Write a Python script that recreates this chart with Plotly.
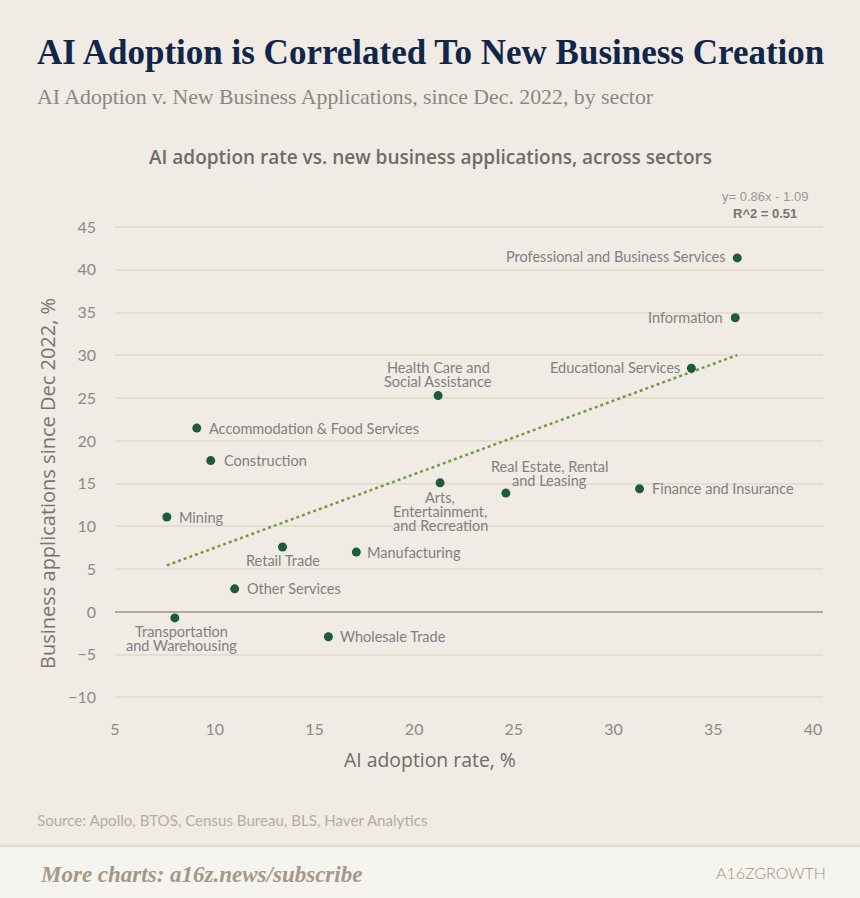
import plotly.graph_objects as go

# AI adoption rate vs new business applications, by sector
sectors = [
    "Professional and Business Services",
    "Information",
    "Educational Services",
    "Health Care and<br>Social Assistance",
    "Accommodation & Food Services",
    "Construction",
    "Arts,<br>Entertainment,<br>and Recreation",
    "Real Estate, Rental<br>and Leasing",
    "Finance and Insurance",
    "Mining",
    "Retail Trade",
    "Manufacturing",
    "Other Services",
    "Transportation<br>and Warehousing",
    "Wholesale Trade",
]
ai_adoption = [36.2, 36.1, 33.9, 21.2, 9.1, 9.8, 21.3, 24.6, 31.3, 7.6, 13.4, 17.1, 11.0, 8.0, 15.7]
biz_apps = [41.4, 34.4, 28.5, 25.3, 21.5, 17.7, 15.1, 13.9, 14.4, 11.1, 7.6, 7.0, 2.7, -0.7, -2.9]

# fitted trend stated on the chart
SLOPE = 0.86
INTERCEPT = -1.09
R2 = 0.51

x_ticks = [5, 10, 15, 20, 25, 30, 35, 40]
y_ticks = [-10, -5, 0, 5, 10, 15, 20, 25, 30, 35, 40, 45]

# label placement: (side, xshift, first-line offset in px)
label_pos = {
    "Professional and Business Services": ("left", -10, 1),
    "Information": ("left", -10, 0),
    "Educational Services": ("left", -9, 1),
    "Health Care and<br>Social Assistance": ("above", 0, 14),
    "Accommodation & Food Services": ("right", 10, 0),
    "Construction": ("right", 11, 0),
    "Arts,<br>Entertainment,<br>and Recreation": ("below", 0, 15),
    "Real Estate, Rental<br>and Leasing": ("above", 44, 13),
    "Finance and Insurance": ("right", 10, 0),
    "Mining": ("right", 10, 0),
    "Retail Trade": ("below", 0, 14),
    "Manufacturing": ("right", 9, 0),
    "Other Services": ("right", 10, 0),
    "Transportation<br>and Warehousing": ("below", 7, 14),
    "Wholesale Trade": ("right", 10, 0),
}
LINE_H = 13.7

W, H = 860, 898
L, R, T, B = 115, 37, 222, 186
pw, ph = W - L - R, H - T - B


def px(x):
    return (x - L) / pw


def py(y):
    return (H - B - y) / ph


BG = "#f0ebe4"
SANS = "Lato, 'Open Sans', sans-serif"
WIDE = "'Open Sans', Lato, sans-serif"
SERIF = "'Liberation Serif', serif"

fig = go.Figure()

x0, x1 = min(ai_adoption), max(ai_adoption)
fig.add_trace(go.Scatter(
    x=[x0, x1], y=[SLOPE * x0 + INTERCEPT, SLOPE * x1 + INTERCEPT],
    mode="lines", line=dict(color="#6f9e40", width=2.5, dash="dot"),
    hoverinfo="skip", showlegend=False))

fig.add_trace(go.Scatter(
    x=ai_adoption, y=biz_apps, mode="markers",
    marker=dict(color="#1d5c3b", size=9),
    text=sectors, hoverinfo="text", showlegend=False, cliponaxis=False))

# point labels, one annotation per line so the line spacing can be tight
annotations = []
for name, xv, yv in zip(sectors, ai_adoption, biz_apps):
    side, xs, off = label_pos[name]
    lines = name.split("<br>")
    n = len(lines)
    for i, line in enumerate(lines):
        if side == "above":
            ys = off + (n - 1 - i) * LINE_H
        elif side == "below":
            ys = -(off + i * LINE_H)
        else:
            ys = off
        xa = {"left": "right", "right": "left"}.get(side, "center")
        annotations.append(dict(
            x=xv, y=yv, xref="x", yref="y", text=line, showarrow=False,
            xanchor=xa, yanchor="middle", xshift=xs, yshift=ys,
            font=dict(family=SANS, size=14.5, color="#808080")))

n_labels = len(annotations)
annotations += [
    dict(x=px(35), y=py(52), text="<b>AI Adoption is Correlated To New Business Creation</b>",
         font=dict(family=SERIF, size=35, color="#10264a")),
    dict(x=px(35), y=py(97), text="AI Adoption v. New Business Applications, since Dec. 2022, by sector",
         font=dict(family=SERIF, size=21.8, color="#8a8782")),
    dict(x=px(430), y=py(157), xanchor="center",
         text="AI adoption rate vs. new business applications, across sectors",
         font=dict(family=WIDE, size=19, color="#6e6c69", weight=600)),
    dict(x=px(765), y=py(196), xanchor="center",
         text=f"y= {SLOPE}x - {abs(INTERCEPT)}",
         font=dict(family="'Liberation Sans', Arial, sans-serif", size=13, color="#9a9894")),
    dict(x=px(765), y=py(213), xanchor="center", text=f"<b>R^2 = {R2}</b>",
         font=dict(family="'Liberation Sans', Arial, sans-serif", size=13, color="#77756f")),
    dict(x=px(430), y=py(759), xanchor="center", text="AI adoption rate, %",
         font=dict(family=WIDE, size=19.4, color="#6e6c69", weight=500)),
    dict(x=px(47), y=py(484), xanchor="center", textangle=-90,
         text="Business applications since Dec 2022, %",
         font=dict(family=WIDE, size=20, color="#77756f", weight=500)),
    dict(x=px(35), y=py(820), text="Source: Apollo, BTOS, Census Bureau, BLS, Haver Analytics",
         font=dict(family=SANS, size=15.1, color="#b8ad9c")),
    dict(x=px(38), y=py(874), text="<b><i>More charts: a16z.news/subscribe</i></b>",
         font=dict(family=SERIF, size=23, color="#a69885")),
    dict(x=px(828), y=py(872), xanchor="right", text="A16ZGROWTH",
         font=dict(family=SANS, size=16, color="#9c9080", weight=300)),
]
for a in annotations[n_labels:]:
    a.setdefault("xref", "paper")
    a.setdefault("yref", "paper")
    a.setdefault("showarrow", False)
    a.setdefault("xanchor", "left")
    a.setdefault("yanchor", "middle")

fig.update_layout(
    width=W, height=H,
    margin=dict(l=L, r=R, t=T, b=B),
    paper_bgcolor=BG, plot_bgcolor=BG,
    annotations=annotations,
    shapes=[
        dict(type="rect", xref="paper", yref="paper",
             x0=px(0), x1=px(W), y0=py(H), y1=py(846),
             fillcolor="#f6f4ef", line=dict(width=0), layer="below"),
        dict(type="line", xref="paper", yref="paper",
             x0=px(0), x1=px(W), y0=py(846), y1=py(846),
             line=dict(color="#e2dacb", width=2.5)),
    ],
    xaxis=dict(range=[5, 40.5], tickvals=x_ticks, showgrid=False, zeroline=False,
               showline=False, ticks="", ticklabelstandoff=6,
               tickfont=dict(family=SANS, size=16, color="#8c8a86")),
    yaxis=dict(range=[-11.7, 45.6], tickvals=y_ticks, showgrid=True,
               gridcolor="#e4dece", gridwidth=1.5,
               zeroline=True, zerolinecolor="#b0a898", zerolinewidth=2,
               showline=False, ticks="", ticklabelstandoff=18,
               tickfont=dict(family=SANS, size=16, color="#8c8a86")),
)

fig.write_html("out.html", config={"displayModeBar": False},
               post_script="document.body.style.margin='0';")
